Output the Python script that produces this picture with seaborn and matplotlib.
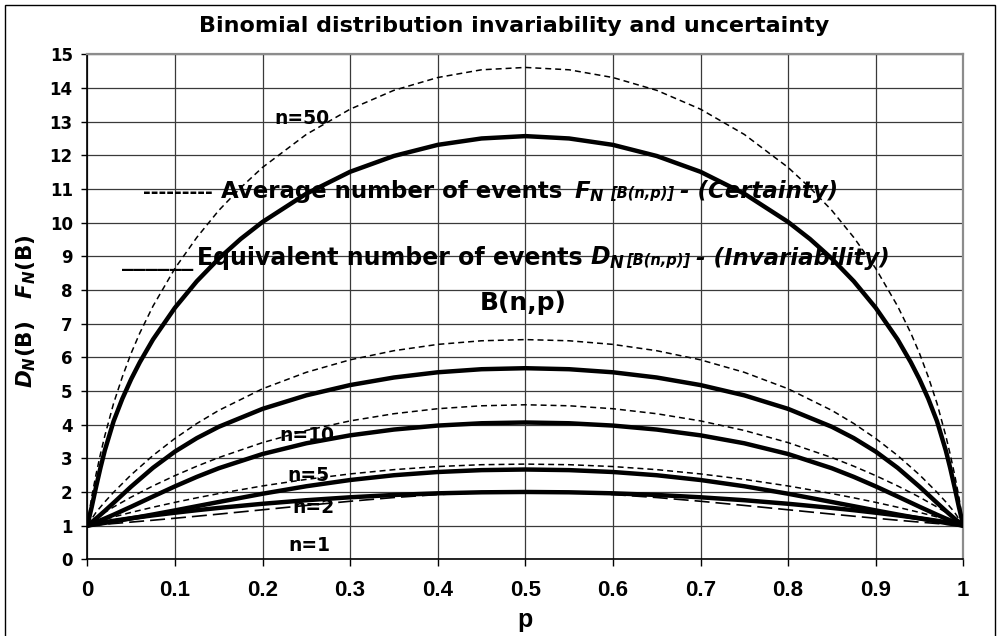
import numpy as np
import pandas as pd
import matplotlib
matplotlib.use("Agg")
import matplotlib.pyplot as plt
import seaborn as sns
from matplotlib import transforms as mtransforms
from matplotlib.patches import Rectangle

# ---------------- data ----------------
p_main = [0.0, 0.01, 0.02, 0.03, 0.05, 0.075, 0.1, 0.125, 0.15, 0.2, 0.25, 0.3, 0.35, 0.4, 0.45, 0.5,
          0.55, 0.6, 0.65, 0.7, 0.75, 0.8, 0.85, 0.875, 0.9, 0.925, 0.95, 0.97, 0.98, 0.99, 1.0]
n1_dash = [1.0, 1.020, 1.041, 1.062, 1.105, 1.161, 1.220, 1.280, 1.342, 1.471, 1.600, 1.724, 1.835, 1.923, 1.980, 2.000,
           1.980, 1.923, 1.835, 1.724, 1.600, 1.471, 1.342, 1.280, 1.220, 1.161, 1.105, 1.062, 1.041, 1.020, 1.0]
n1_solid = [1.0, 1.058, 1.103, 1.144, 1.220, 1.305, 1.384, 1.458, 1.526, 1.649, 1.755, 1.842, 1.911, 1.960, 1.990, 2.000,
            1.990, 1.960, 1.911, 1.842, 1.755, 1.649, 1.526, 1.458, 1.384, 1.305, 1.220, 1.144, 1.103, 1.058, 1.0]
n2_solid = [1.0, 1.041, 1.082, 1.125, 1.214, 1.331, 1.452, 1.577, 1.702, 1.947, 2.170, 2.355, 2.497, 2.593, 2.649, 2.667,
            2.649, 2.593, 2.497, 2.355, 2.170, 1.947, 1.702, 1.577, 1.452, 1.331, 1.214, 1.125, 1.082, 1.041, 1.0]
n2_dash = [1.0, 1.103, 1.184, 1.258, 1.393, 1.547, 1.691, 1.826, 1.952, 2.179, 2.374, 2.536, 2.663, 2.755, 2.810, 2.828,
           2.810, 2.755, 2.663, 2.536, 2.374, 2.179, 1.952, 1.826, 1.691, 1.547, 1.393, 1.258, 1.184, 1.103, 1.0]
n5_solid = [1.0, 1.103, 1.211, 1.324, 1.561, 1.866, 2.166, 2.448, 2.704, 3.127, 3.446, 3.682, 3.854, 3.972, 4.041, 4.064,
            4.041, 3.972, 3.854, 3.682, 3.446, 3.127, 2.704, 2.448, 2.166, 1.866, 1.561, 1.324, 1.211, 1.103, 1.0]
n5_dash = [1.0, 1.222, 1.395, 1.554, 1.846, 2.180, 2.485, 2.765, 3.021, 3.466, 3.827, 4.111, 4.324, 4.473, 4.560, 4.590,
           4.560, 4.473, 4.324, 4.111, 3.827, 3.466, 3.021, 2.765, 2.485, 2.180, 1.846, 1.554, 1.395, 1.222, 1.0]
n10_solid = [1.0, 1.210, 1.438, 1.676, 2.158, 2.718, 3.199, 3.599, 3.935, 4.468, 4.870, 5.175, 5.400, 5.555, 5.646, 5.676,
             5.646, 5.555, 5.400, 5.175, 4.870, 4.468, 3.935, 3.599, 3.199, 2.718, 2.158, 1.676, 1.438, 1.210, 1.0]
n10_dash = [1.0, 1.396, 1.706, 1.990, 2.509, 3.084, 3.589, 4.033, 4.422, 5.065, 5.554, 5.925, 6.196, 6.383, 6.491, 6.526,
            6.491, 6.383, 6.196, 5.925, 5.554, 5.065, 4.422, 4.033, 3.589, 3.084, 2.509, 1.990, 1.706, 1.396, 1.0]
p_50 = [0.0, 0.005, 0.01, 0.015, 0.02, 0.03, 0.04, 0.05, 0.06, 0.075, 0.1, 0.125, 0.15, 0.175, 0.2, 0.25, 0.3, 0.35,
        0.4, 0.45, 0.5, 0.55, 0.6, 0.65, 0.7, 0.75, 0.8, 0.825, 0.85, 0.875, 0.9, 0.925, 0.94, 0.95, 0.96, 0.97,
        0.98, 0.985, 0.99, 0.995, 1.0]
n50_solid = [1.0, 1.550, 2.149, 2.716, 3.235, 4.10, 4.77, 5.347, 5.855, 6.53, 7.47, 8.258, 8.93, 9.513, 10.02,
             10.86, 11.51, 11.98, 12.31, 12.50, 12.57, 12.50, 12.31, 11.98, 11.51, 10.86, 10.02, 9.513, 8.93,
             8.258, 7.47, 6.53, 5.855, 5.347, 4.77, 4.10, 3.235, 2.716, 2.149, 1.550, 1.0]
n50_dash = [1.0, 1.852, 2.525, 3.123, 3.669, 4.63, 5.42, 6.117, 6.725, 7.52, 8.64, 9.560, 10.36, 11.035, 11.64,
            12.62, 13.37, 13.93, 14.31, 14.54, 14.61, 14.54, 14.31, 13.93, 13.37, 12.62, 11.64, 11.035, 10.36,
            9.560, 8.64, 7.52, 6.725, 6.117, 5.42, 4.63, 3.669, 3.123, 2.525, 1.852, 1.0]

x_ticks = [0, 0.1, 0.2, 0.3, 0.4, 0.5, 0.6, 0.7, 0.8, 0.9, 1]
x_tick_labels = ["0", "0.1", "0.2", "0.3", "0.4", "0.5", "0.6", "0.7", "0.8", "0.9", "1"]
y_ticks = list(range(0, 16))
n_labels = ["n=50", "n=10", "n=5", "n=2", "n=1"]

title = "Binomial distribution invariability and uncertainty"

# ---------------- style ----------------
sns.set_theme(style="white")
plt.rcParams["font.family"] = ["DejaVu Sans"]
plt.rcParams["font.weight"] = "bold"
plt.rcParams["text.color"] = "black"
plt.rcParams["axes.labelcolor"] = "black"
plt.rcParams["xtick.color"] = "black"
plt.rcParams["ytick.color"] = "black"
plt.rcParams["mathtext.fontset"] = "custom"
plt.rcParams["mathtext.it"] = "DejaVu Sans:italic:bold"
plt.rcParams["mathtext.rm"] = "DejaVu Sans:bold"
plt.rcParams["mathtext.bf"] = "DejaVu Sans:bold"

W, H = 997, 636
fig = plt.figure(figsize=(W / 100, H / 100), dpi=100)
fig.patch.set_facecolor("white")
ax = fig.add_axes([87.3 / W, 1 - 559.3 / H, 876 / W, 505 / H])
ax.set_facecolor("white")

solid_kw = dict(color="black", linewidth=3.2, solid_joinstyle="round")
dash_kw = dict(color="black", linewidth=1.1, linestyle=(0, (3.9, 2.6)))
long_kw = dict(color="black", linewidth=1.2, linestyle=(0, (9, 3.6)))

curves = [
    (p_main, n1_dash, long_kw),
    (p_main, n1_solid, solid_kw),
    (p_main, n2_dash, dash_kw),
    (p_main, n2_solid, solid_kw),
    (p_main, n5_dash, dash_kw),
    (p_main, n5_solid, solid_kw),
    (p_main, n10_dash, dash_kw),
    (p_main, n10_solid, solid_kw),
    (p_50, n50_dash, dash_kw),
    (p_50, n50_solid, solid_kw),
]
for xs, ys, kw in curves:
    df = pd.DataFrame({"p": xs, "v": ys})
    sns.lineplot(data=df, x="p", y="v", ax=ax, legend=False, zorder=3, **kw)

ax.set_xlim(0, 1)
ax.set_ylim(0, 15)
ax.set_xticks(x_ticks)
ax.set_xticklabels(x_tick_labels)
ax.set_yticks(y_ticks)
ax.set_xlabel("")
ax.set_ylabel("")
ax.grid(True, color="#3a3a3a", linewidth=0.9)
ax.set_axisbelow(True)
for side in ["left", "bottom"]:
    ax.spines[side].set_color("black")
    ax.spines[side].set_linewidth(1.2)
for side in ["top", "right"]:
    ax.spines[side].set_color("#8c8c8c")
    ax.spines[side].set_linewidth(1.6)
ax.tick_params(axis="y", which="major", direction="out", length=4.5, width=1,
               color="black", pad=6, labelsize=12, left=True, labelcolor="black")
ax.tick_params(axis="x", which="major", direction="out", length=5, width=1,
               color="black", pad=10, labelsize=16, bottom=True, labelcolor="black")
for lab in ax.get_yticklabels():
    lab.set_fontweight("bold")
for lab in ax.get_xticklabels():
    lab.set_fontweight("bold")
    lab.set_fontfamily(["Liberation Sans", "DejaVu Sans"])

# curve labels
label_pos = [(0.245, 13.1), (0.251, 3.69), (0.252, 2.50), (0.258, 1.55), (0.254, 0.42)]
for txt, (lx, ly) in zip(n_labels, label_pos):
    ax.text(lx, ly, txt, ha="center", va="center", fontsize=13.5, fontweight="bold", zorder=2)

ax.text(0.498, 7.61, "B(n,p)", ha="center", va="center", fontsize=18, fontweight="bold", zorder=2)

# chained legend-like texts
renderer = fig.canvas.get_renderer()
ident = mtransforms.IdentityTransform()


def chain(x_data, y_data, pieces):
    xd, yd = ax.transData.transform((x_data, y_data))
    for s, gap, kw in pieces:
        xd += gap
        t = fig.text(xd, yd, s, transform=ident, ha="left", va="baseline", zorder=5, **kw)
        bb = t.get_window_extent(renderer)
        xd = bb.x1


dash_txt = dict(fontsize=13.5, fontweight="bold")
bold1 = dict(fontsize=16.5, fontweight="bold")
bold2 = dict(fontsize=17, fontweight="bold")
boldit = dict(fontsize=16.5, fontweight="bold", fontstyle="italic")
small_it = dict(fontsize=10.5, fontweight="bold", fontstyle="italic")
chain(0.0636, 10.73, [
    ("---------", 0, dash_txt),
    ("Average number of events", 8, bold1),
    ("$F_N$", 12, bold1),
    ("[B(n,p)]", 5, small_it),
    ("- (Certainty)", 6, boldit),
])
chain(0.0397, 8.74, [
    ("______", 0, bold2),
    ("Equivalent number of events", 4, bold2),
    ("$D_N$", 7, bold2),
    ("[B(n,p)]", 1, small_it),
    ("- (Invariability)", 6, boldit),
])

fig.text(514 / W, 1 - 26 / H, title, ha="center", va="center", fontsize=16, fontweight="bold")
fig.text(26 / W, 1 - 311 / H, "$D_N$(B)   $F_N$(B)", rotation=90, ha="center", va="center",
         fontsize=15.5, fontweight="bold")
fig.text(525 / W, 1 - 620 / H, "p", ha="center", va="center", fontsize=18, fontweight="bold",
         family=["Liberation Sans", "DejaVu Sans"])

fig.patches.append(Rectangle((5 / W, -0.05), 990 / W, 1.05 - 5 / H, transform=fig.transFigure,
                             fill=False, edgecolor="black", linewidth=1.0))

fig.savefig("out.png", dpi=100, facecolor="white")
